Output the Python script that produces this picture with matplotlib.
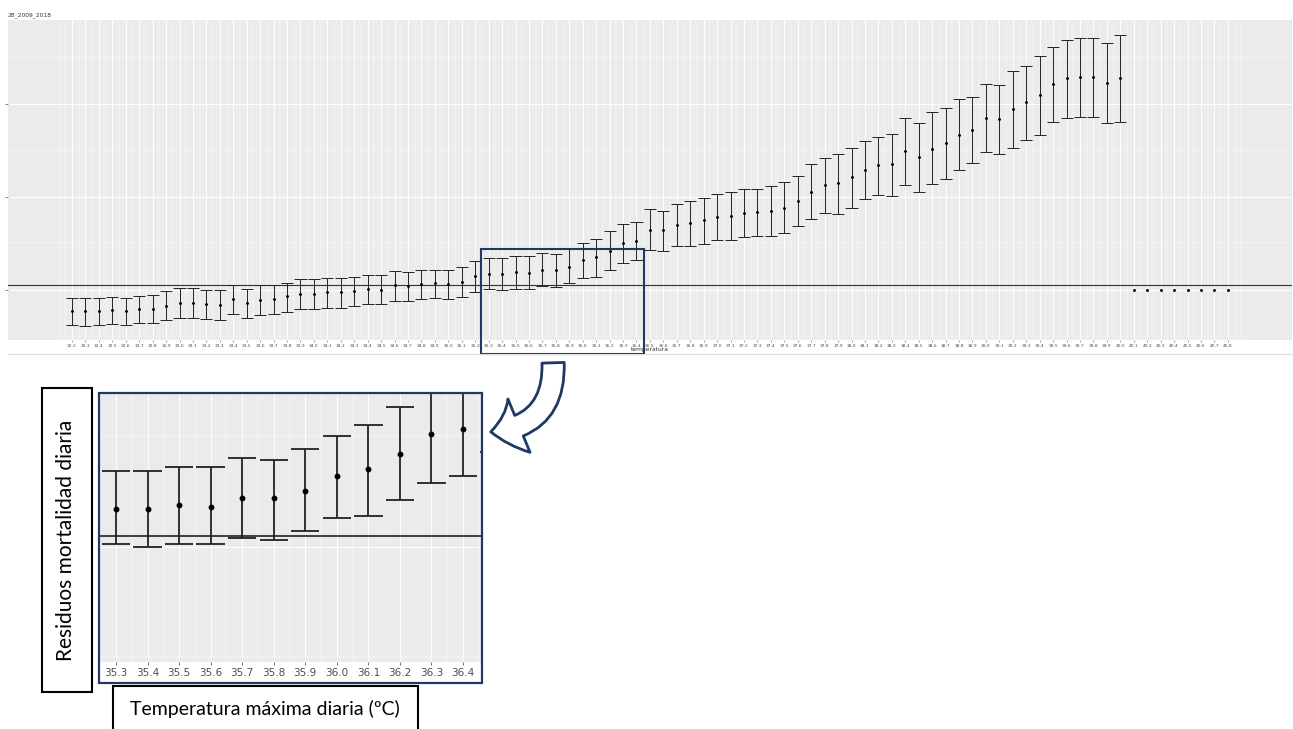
import numpy as np
import matplotlib
matplotlib.use("Agg")
import matplotlib.pyplot as plt
from matplotlib.patches import Rectangle, FancyArrowPatch
from matplotlib.lines import Line2D

# temperatures (categories) on the x axis
temps = [32.2, 32.3, 32.4, 32.5, 32.6, 32.7, 32.8, 32.9, 33.0, 33.1,
         33.2, 33.3, 33.4, 33.5, 33.6, 33.7, 33.8, 33.9, 34.0, 34.1,
         34.2, 34.3, 34.4, 34.5, 34.6, 34.7, 34.8, 34.9, 35.0, 35.1,
         35.2, 35.3, 35.4, 35.5, 35.6, 35.7, 35.8, 35.9, 36.0, 36.1,
         36.2, 36.3, 36.4, 36.5, 36.6, 36.7, 36.8, 36.9, 37.0, 37.1,
         37.2, 37.3, 37.4, 37.5, 37.6, 37.7, 37.8, 37.9, 38.0, 38.1,
         38.2, 38.3, 38.4, 38.5, 38.6, 38.7, 38.8, 38.9, 39.0, 39.1,
         39.2, 39.3, 39.4, 39.5, 39.6, 39.7, 39.8, 39.9, 40.0, 40.1,
         40.2, 40.3, 40.4, 40.5, 40.6, 40.7, 40.8]

# residual estimate and interval, 32.2 .. 40.0
center = [-0.23, -0.23, -0.23, -0.22, -0.23, -0.21, -0.20, -0.17, -0.14, -0.14,
          -0.15, -0.16, -0.10, -0.14, -0.11, -0.10, -0.07, -0.04, -0.04, -0.02,
          -0.02, -0.01, 0.01, 0.00, 0.05, 0.04, 0.06, 0.07, 0.06, 0.09,
          0.15, 0.17, 0.17, 0.19, 0.18, 0.22, 0.22, 0.25, 0.32, 0.35,
          0.42, 0.51, 0.53, 0.65, 0.64, 0.70, 0.72, 0.75, 0.79, 0.80,
          0.83, 0.84, 0.85, 0.88, 0.96, 1.05, 1.13, 1.15, 1.21, 1.29,
          1.34, 1.35, 1.49, 1.43, 1.52, 1.58, 1.67, 1.72, 1.85, 1.84,
          1.95, 2.02, 2.10, 2.21, 2.28, 2.29, 2.29, 2.23, 2.28]
lower = [-0.38, -0.39, -0.38, -0.37, -0.38, -0.36, -0.35, -0.32, -0.30, -0.30,
         -0.31, -0.32, -0.26, -0.30, -0.27, -0.26, -0.24, -0.20, -0.20, -0.19,
         -0.19, -0.17, -0.15, -0.15, -0.12, -0.12, -0.10, -0.09, -0.10, -0.08,
         -0.02, 0.01, 0.00, 0.01, 0.01, 0.04, 0.03, 0.07, 0.13, 0.14,
         0.21, 0.29, 0.32, 0.43, 0.42, 0.47, 0.47, 0.49, 0.54, 0.54,
         0.57, 0.58, 0.58, 0.61, 0.69, 0.76, 0.83, 0.82, 0.88, 0.98,
         1.02, 1.01, 1.13, 1.05, 1.14, 1.19, 1.29, 1.37, 1.48, 1.46,
         1.53, 1.61, 1.67, 1.81, 1.85, 1.86, 1.86, 1.80, 1.81]
upper = [-0.09, -0.09, -0.09, -0.08, -0.09, -0.06, -0.05, -0.01, 0.02, 0.02,
         0.00, 0.00, 0.05, 0.01, 0.05, 0.05, 0.08, 0.12, 0.12, 0.13,
         0.13, 0.14, 0.16, 0.16, 0.20, 0.19, 0.22, 0.22, 0.21, 0.25,
         0.31, 0.34, 0.34, 0.36, 0.36, 0.40, 0.39, 0.44, 0.50, 0.55,
         0.63, 0.71, 0.73, 0.87, 0.85, 0.92, 0.96, 0.99, 1.03, 1.05,
         1.09, 1.09, 1.12, 1.16, 1.23, 1.35, 1.42, 1.46, 1.53, 1.60,
         1.65, 1.68, 1.85, 1.80, 1.91, 1.96, 2.05, 2.07, 2.21, 2.20,
         2.35, 2.41, 2.52, 2.61, 2.69, 2.71, 2.71, 2.66, 2.74]
# 40.1 .. 40.8: point only, no interval
center_nobar = [0, 0, 0, 0, 0, 0, 0, 0]

ref_line = 0.05
zoom_first, zoom_last = 35.3, 36.4

NAVY = "#1F3864"
PANEL = "#EBEBEB"
W, H = 1293, 729


def fx(px):
    return px / W


def fy(py):
    return 1 - py / H


def draw_panel(ax, lw, cap, ms, hl_lw):
    n_bar = len(center)
    x = np.arange(n_bar)
    c = np.array(center)
    lo = np.array(lower)
    hi = np.array(upper)
    ax.axhline(ref_line, color="#333333", lw=hl_lw, zorder=2)
    ax.vlines(x, lo, hi, color="#222222", lw=lw, zorder=3)
    ax.hlines(lo, x - cap, x + cap, color="#222222", lw=lw, zorder=3)
    ax.hlines(hi, x - cap, x + cap, color="#222222", lw=lw, zorder=3)
    ax.plot(x, c, "o", color="black", ms=ms, zorder=4)
    x2 = np.arange(n_bar, n_bar + len(center_nobar))
    ax.plot(x2, center_nobar, "o", color="black", ms=ms, zorder=4)


def style_panel(ax, minor_x):
    ax.set_facecolor(PANEL)
    for s in ax.spines.values():
        s.set_visible(False)
    ax.set_xticks(np.arange(len(temps)))
    ax.set_xticks(minor_x, minor=True)
    ax.set_yticks([0, 1, 2])
    ax.set_yticks([-0.5, 0.5, 1.5, 2.5], minor=True)
    ax.grid(True, which="major", color="white", lw=0.7)
    ax.grid(True, which="minor", color="white", lw=0.35)
    ax.set_axisbelow(True)


fig = plt.figure(figsize=(W / 100, H / 100), dpi=100)

# ---- main chart
ax = fig.add_axes((fx(8), fy(340), fx(1284), 320 / H))
style_panel(ax, np.arange(-1, 87.01, 0.5))
draw_panel(ax, lw=0.7, cap=0.45, ms=1.1, hl_lw=0.8)
ax.set_xlim(-64 / 13.44, 1220 / 13.44)
ax.set_ylim(-0.538, 2.903)
ax.set_xticklabels([f"{t:.1f}" for t in temps], fontsize=3.2, color="#4D4D4D")
ax.set_yticklabels([])
ax.tick_params(axis="x", which="major", length=1.5, width=0.4, pad=1.5, color="#555555")
ax.tick_params(axis="y", which="major", length=2, width=0.5, pad=1, color="#555555")
ax.tick_params(which="minor", length=0)
fig.text(fx(8), fy(15), "28_2009_2018", fontsize=4.3, color="#333333", va="center")
fig.text(fx(650), fy(350), "temperatura", fontsize=4.3, color="#333333",
         ha="center", va="center")
fig.add_artist(Line2D([fx(8), fx(1292)], [fy(354), fy(354)], color="#DDDDDD", lw=0.8))

# highlighted region on the main chart
fig.add_artist(Rectangle((fx(481), fy(354)), fx(163), 105 / H, fill=False,
                         edgecolor=NAVY, lw=1.5))

# ---- zoomed inset
i0 = temps.index(zoom_first)
i1 = temps.index(zoom_last)
axi = fig.add_axes((fx(99), fy(662), fx(383), 269 / H))
style_panel(axi, np.arange(i0 - 0.5, i1 + 1.01, 0.5))
draw_panel(axi, lw=1.3, cap=0.45, ms=3.2, hl_lw=1.3)
axi.set_xlim(i0 - 17 / 31.55, i1 + 19 / 31.55)
axi.set_ylim(-0.522, 0.695)
axi.set_xticklabels([f"{t:.1f}" for t in temps], fontsize=7.5, color="#4D4D4D")
axi.set_yticklabels([])
axi.tick_params(axis="x", which="major", length=2.5, width=0.6, pad=2, color="#555555")
axi.tick_params(axis="y", length=0)
axi.tick_params(which="minor", length=0)
fig.add_artist(Rectangle((fx(99), fy(683)), fx(383), 290 / H, fill=False,
                         edgecolor=NAVY, lw=1.6))

# axis label boxes
fig.add_artist(Rectangle((fx(42), fy(692)), fx(50), 304 / H, facecolor="white",
                         edgecolor="black", lw=1.5))
fig.text(fx(66), fy(540), "Residuos mortalidad diaria", rotation=90,
         ha="center", va="center", fontsize=15, family="Lato")
fig.add_artist(Rectangle((fx(113), fy(745)), fx(305), 59 / H, facecolor="white",
                         edgecolor="black", lw=1.5, clip_on=False))
fig.text(fx(265), fy(709), "Temperatura máxima diaria (ºC)",
         ha="center", va="center", fontsize=14, family="Lato")

# curved arrow from the highlight to the inset
arrow = FancyArrowPatch((fx(553), fy(360)), (fx(488), fy(432)),
                        transform=fig.transFigure,
                        connectionstyle="arc3,rad=-0.5",
                        arrowstyle="simple,head_length=1.3,head_width=2.6,tail_width=1.0",
                        mutation_scale=16, facecolor="white", edgecolor=NAVY, lw=2)
fig.add_artist(arrow)

fig.savefig("out.png", dpi=100)
